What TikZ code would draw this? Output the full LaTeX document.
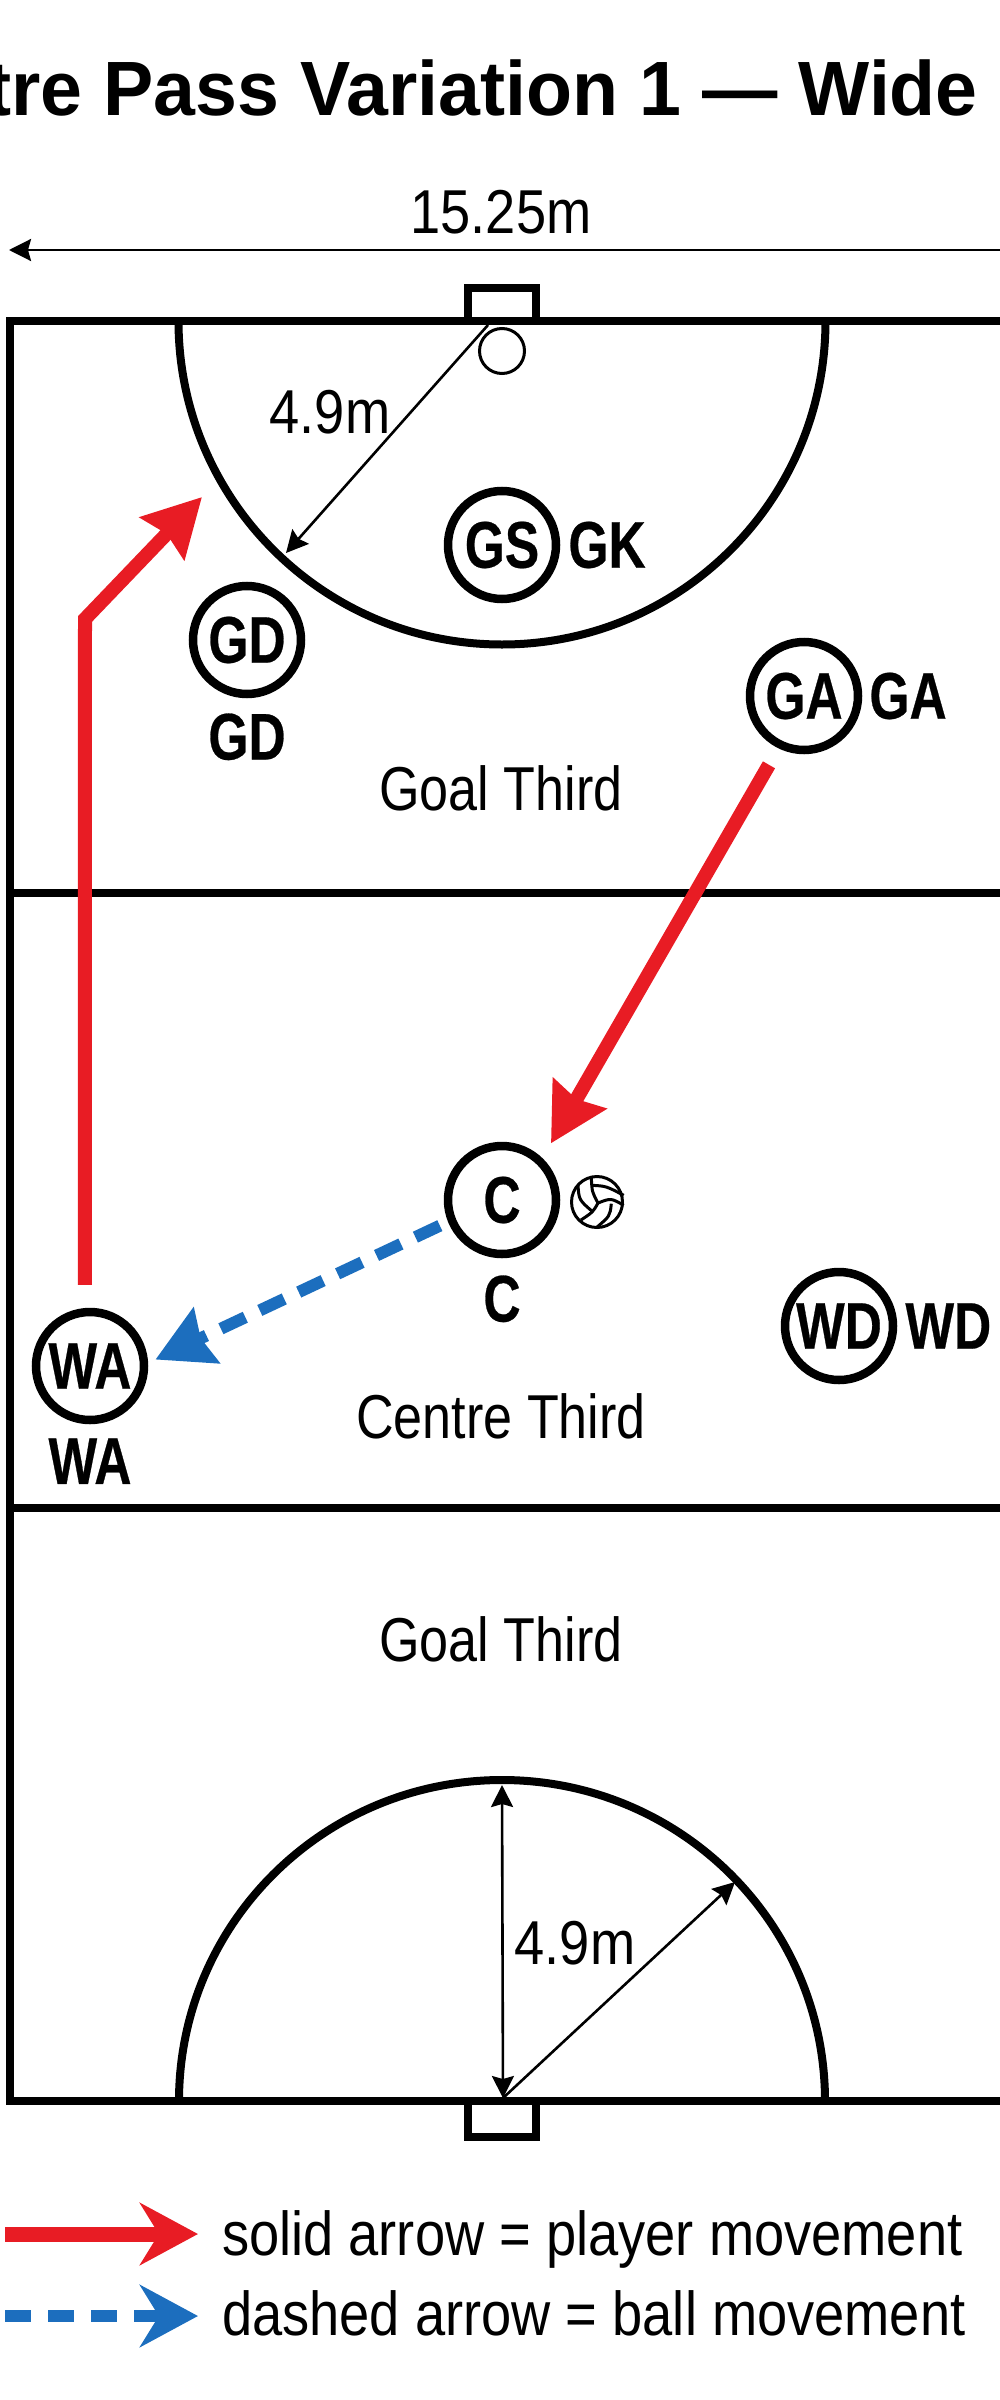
\documentclass[tikz,border=0pt]{standalone}
\usepackage{fontspec}
\setmainfont[FakeStretch=0.84]{Liberation Sans}
\newfontfamily\widefont[FakeStretch=0.875]{Liberation Sans}
\newfontfamily\tagfont[FakeStretch=0.78, FakeBold=0.4]{Liberation Sans Bold}
\newfontfamily\titlefont[FakeStretch=0.978]{Liberation Sans Bold}
\usetikzlibrary{positioning, arrows.meta}
\definecolor{movered}{HTML}{E81C24}
\definecolor{passblue}{HTML}{1C6EBE}

\tikzset{
  courtline/.style={draw, line width=8pt, line join=miter},
  player/.style={draw, circle, line width=8.5pt, minimum size=108pt, inner sep=0pt, font=\tagfont\fontsize{66}{66}\selectfont},
  tag/.style={inner sep=0pt, font=\tagfont\fontsize{66}{66}\selectfont},
  plain/.style={inner sep=0pt, anchor=base, font=\fontsize{62}{62}\selectfont},
  wide/.style={inner sep=0pt, anchor=base, font=\widefont\fontsize{62}{62}\selectfont},
  dimline/.style={line width=2.6pt, -{Stealth[length=22pt, width=22pt, inset=3pt]}},
  playermove/.style={draw=movered, line width=14pt, -{Stealth[length=57pt, width=60pt, inset=6pt, fill=movered]}},
  ballmove/.style={draw=passblue, line width=12pt, dash pattern=on 27pt off 16pt, -{Stealth[length=56pt, width=60pt, inset=6pt, fill=passblue]}},
  seam/.style={line width=3pt}
}

\begin{document}
\begin{tikzpicture}[x=1pt, y=-1pt]
  \clip (0,0) rectangle (1000,2400);

  \node[inner sep=0pt, anchor=base east, font=\titlefont\fontsize{77}{77}\selectfont] (title) at (978,116) {tre Pass Variation 1 — Wide};

  % court
  \draw[courtline] (1000,321) -- (10,321) -- (10,2101) -- (1000,2101);
  \draw[courtline] (10,893) -- (1000,893);
  \draw[courtline] (10,1508) -- (1000,1508);
  \draw[courtline] (178.5,321) arc[start angle=180, end angle=0, radius=323.5];
  \draw[courtline] (179,2101) arc[start angle=180, end angle=360, x radius=323, y radius=321];
  \draw[courtline] (468,321) -- (468,287.5) -- (535.5,287.5) -- (535.5,321);
  \draw[courtline] (468,2101) -- (468,2136.5) -- (535.5,2136.5) -- (535.5,2101);
  \node[draw, circle, line width=3pt, minimum size=45pt, inner sep=0pt] (ring) at (502,351) {};

  % players
  \node[player] (GS) at (502,545) {GS};
  \node[player] (GD) at (247,640) {GD};
  \node[player] (GA) at (804,696) {GA};
  \node[player] (C)  at (502,1200) {C};
  \node[player] (WD) at (839,1326) {WD};
  \node[player] (WA) at (90,1366) {WA};

  \node[tag, right=8pt of GS] (GStag) {GK};
  \node[tag, below=15pt of GD] (GDtag) {GD};
  \node[tag, right=7pt of GA] (GAtag) {GA};
  \node[tag, below=17pt of C] (Ctag) {C};
  \node[tag, right=8pt of WD] (WDtag) {WD};
  \node[tag, below=14pt of WA] (WAtag) {WA};

  % ball
  \node[draw, circle, line width=3pt, minimum size=51pt, inner sep=0pt] (ball) at (597,1202) {};
  \begin{scope}[shift={(597,1202)}]
    \draw[seam] (-5.7,-25) .. controls (-5,-10) .. (1,1);
    \draw[seam] (-5.7,-16.7) .. controls (9,-16) .. (26.7,-6.7);
    \draw[seam] (1,1) .. controls (14,-4) .. (26.7,3.3);
    \draw[seam] (-19,-16.7) .. controls (-18,-2) .. (-4,10);
    \draw[seam] (1,1) .. controls (-4,10) .. (-16,18);
    \draw[seam] (14.3,1.7) .. controls (13,14) .. (-0.7,25.7);
  \end{scope}

  % texts
  \node[wide] (width) at (501,234) {15.25m};
  \node[wide] (upradius) at (330,433) {4.9m};
  \node[wide] (lowradius) at (575,1964) {4.9m};
  \node[plain] (upthird) at (501,810) {Goal Third};
  \node[plain] (midthird) at (501,1438) {Centre Third};
  \node[plain] (lowthird) at (501,1661) {Goal Third};
  \node[wide, anchor=base west] (solidtext) at (222,2255) {solid arrow = player movement};
  \node[wide, anchor=base west] (dashtext) at (222,2335) {dashed arrow = ball movement};

  % measure ends
  \coordinate (widthR) at (1000,250);
  \coordinate (widthL) at (9,250);
  \coordinate (upgoal) at (488,325);
  \coordinate (uparc) at (286,553);
  \coordinate (lowgoal) at (503,2098);
  \coordinate (lowtop) at (502,1785);
  \coordinate (lowarc) at (735,1882);
  \coordinate (wabend) at (85,619);
  \coordinate (gdtip) at (202,497);
  \coordinate (solidA) at (5,2234);
  \coordinate (solidB) at (198,2234);
  \coordinate (dashA) at (5,2316);
  \coordinate (dashB) at (198,2316);

  \draw[dimline] (widthR) -- (widthL);
  \draw[dimline] (upgoal) -- (uparc);
  \draw[dimline, {Stealth[length=22pt, width=22pt, inset=3pt]}-{Stealth[length=22pt, width=22pt, inset=3pt]}] (lowtop) -- (lowgoal);
  \draw[dimline] (lowgoal) -- (lowarc);

  \draw[playermove, shorten <=23pt] (WA.95) -- (wabend) -- (gdtip);
  \draw[playermove, shorten <=19pt, shorten >=17pt] (GA.244) -- (C.46);
  \draw[ballmove, shorten <=9pt, shorten >=8pt] (C.202) -- (WA.3);

  \draw[playermove, line width=15pt, -{Stealth[length=58pt, width=62pt, fill=movered]}] (solidA) -- (solidB);
  \draw[ballmove, line width=12pt, dash pattern=on 26pt off 17pt, -{Stealth[length=58pt, width=62pt, fill=passblue]}] (dashA) -- (dashB);
\end{tikzpicture}
\end{document}
